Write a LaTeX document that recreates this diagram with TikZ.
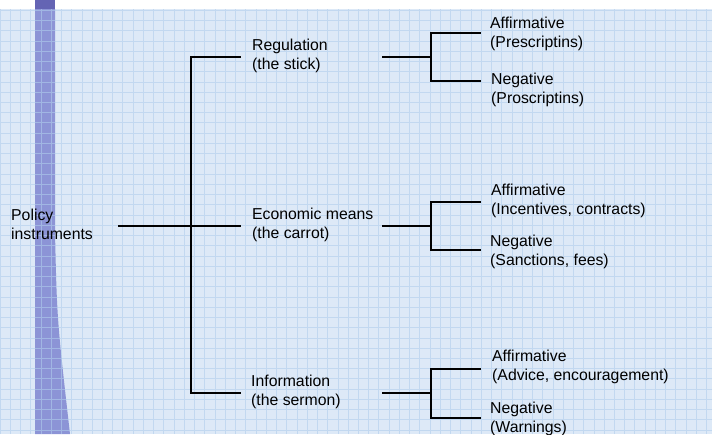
\documentclass[tikz,border=0pt]{standalone}
\usepackage{fontspec}
\setmainfont{Liberation Sans}

\definecolor{paper}{RGB}{221,233,247}
\definecolor{gridblue}{RGB}{176,206,236}
\definecolor{barblue}{RGB}{140,148,214}
\definecolor{bartop}{RGB}{100,100,180}

\begin{document}
\begin{tikzpicture}[x=1pt,y=-1pt,
    itemtext/.style={anchor=base west, align=left, inner sep=0pt,
        font=\fontsize{15.8}{19}\selectfont},
    branch/.style={line width=1.8pt, line cap=rect}]
    \clip (0,0) rectangle (712,434);
    % Hintergrund mit Raster
    \fill[white] (0,0) rectangle (712,434);
    \fill[paper] (0,9) rectangle (712,434);
    \fill[bartop] (35,0) rectangle (55,9);
    \fill[barblue] (35,9) -- (55,9) -- (55,232) .. controls (57,320) .. (70,434) -- (35,434) -- cycle;
    \draw[gridblue, line width=0.8pt, opacity=0.6, step=10.24pt] (0,434) grid (712,9);
    % Punkte des Baums
    \coordinate (root) at (119,226);
    \coordinate (hub) at (191,226);
    \coordinate (regL) at (191,57);
    \coordinate (regR) at (240,57);
    \coordinate (ecoR) at (240,226);
    \coordinate (infL) at (191,393);
    \coordinate (infR) at (240,393);
    % Erste Ebene
    \draw[branch] (root) -- (hub) -- (ecoR);
    \draw[branch] (regR) -- (regL) -- (infL) -- (infR);
    % Zweite Ebene
    \foreach \name/\y/\ya/\yb in {reg/57/33/81, eco/226/202/250, inf/393/369/418}{
        \coordinate (\name In) at (383,\y);
        \coordinate (\name Fork) at (431,\y);
        \coordinate (\name Up) at (431,\ya);
        \coordinate (\name Dn) at (431,\yb);
        \coordinate (\name Aff) at (480,\ya);
        \coordinate (\name Neg) at (480,\yb);
        \draw[branch] (\name In) -- (\name Fork);
        \draw[branch] (\name Aff) -- (\name Up) -- (\name Dn) -- (\name Neg);
    }
    % Beschriftungen (Anker an der zweiten Grundlinie)
    \node[itemtext] (policy) at (11,239) {Policy\\instruments};
    \node[itemtext] (regulation) at (252,69) {Regulation\\(the stick)};
    \node[itemtext] (economic) at (252,238) {Economic means\\(the carrot)};
    \node[itemtext] (information) at (251,405) {Information\\(the sermon)};
    \node[itemtext] (regaff) at (490,47) {Affirmative\\(Prescriptins)};
    \node[itemtext] (regneg) at (491,103) {Negative\\(Proscriptins)};
    \node[itemtext] (ecoaff) at (491,214) {Affirmative\\(Incentives, contracts)};
    \node[itemtext] (econeg) at (490,265) {Negative\\(Sanctions, fees)};
    \node[itemtext] (infaff) at (492,380) {Affirmative\\(Advice, encouragement)};
    \node[itemtext] (infneg) at (490,432) {Negative\\(Warnings)};
\end{tikzpicture}
\end{document}
